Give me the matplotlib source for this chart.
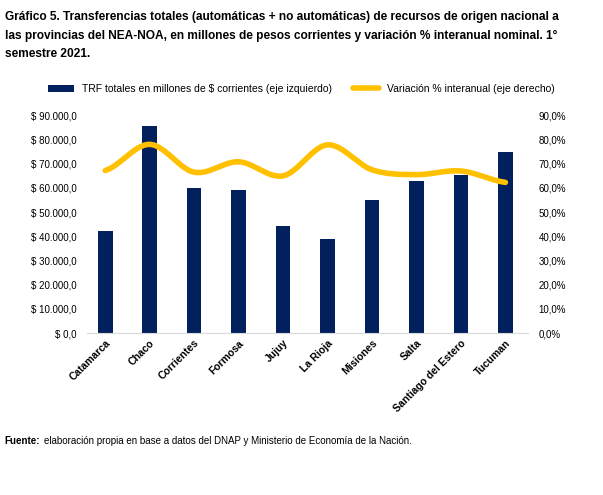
import numpy as np
import matplotlib.pyplot as plt
from matplotlib.ticker import FuncFormatter

provincias = ["Catamarca", "Chaco", "Corrientes", "Formosa", "Jujuy", "La Rioja",
              "Misiones", "Salta", "Santiago del Estero", "Tucuman"]
trf = [42000, 85700, 60000, 59200, 44300, 39000, 55000, 63000, 65300, 74800]
variacion = [67.2, 78.0, 66.5, 70.8, 65.0, 77.8, 67.5, 65.5, 67.0, 62.3]

plt.rcParams['font.family'] = ['Liberation Sans', 'DejaVu Sans']

def fmt_pesos(v, pos):
    s = f"{v:,.1f}".replace(",", "X").replace(".", ",").replace("X", ".")
    return "$ " + s

def fmt_pct(v, pos):
    return f"{v:.1f}%".replace(".", ",")

def smooth(y, n=30):
    # catmull-rom para dibujar la curva suavizada como en Excel
    y = np.asarray(y, float)
    p = np.concatenate([[y[0]], y, [y[-1]]])
    xs, ys = [], []
    for i in range(len(y) - 1):
        t = np.linspace(0, 1, n, endpoint=False)
        p0, p1, p2, p3 = p[i], p[i + 1], p[i + 2], p[i + 3]
        ys.append(0.5 * (2 * p1 + (-p0 + p2) * t + (2 * p0 - 5 * p1 + 4 * p2 - p3) * t**2
                         + (-p0 + 3 * p1 - 3 * p2 + p3) * t**3))
        xs.append(i + t)
    xs.append([len(y) - 1]); ys.append([y[-1]])
    return np.concatenate(xs), np.concatenate(ys)

fig = plt.figure(figsize=(6.03, 4.95), dpi=100)
ax = fig.add_axes([0.145, 0.327, 0.73, 0.44])
x = np.arange(len(provincias))
ax.bar(x, trf, width=0.33, color="#02205e", label="TRF totales en millones de $ corrientes (eje izquierdo)")
ax.set_ylim(0, 90000)
ax.set_yticks(np.arange(0, 90001, 10000))
ax.yaxis.set_major_formatter(FuncFormatter(fmt_pesos))
ax.set_xlim(-0.4, 9.5)
ax.set_xticks(x)
ax.set_xticklabels(provincias, rotation=45, ha="right", rotation_mode="anchor", fontsize=7.5, fontweight="bold")
ax.tick_params(axis="y", labelsize=7, length=0, pad=8)
ax.tick_params(axis="x", length=0)
for s in ["top", "right", "left"]:
    ax.spines[s].set_visible(False)
ax.spines["bottom"].set_color("#d9d9d9")

ax2 = ax.twinx()
sx, sy = smooth(variacion)
ax2.plot(sx, sy, color="#ffc000", lw=4, solid_capstyle="round", label="Variación % interanual (eje derecho)")
ax2.set_ylim(0, 90)
ax2.set_yticks(np.arange(0, 91, 10))
ax2.yaxis.set_major_formatter(FuncFormatter(fmt_pct))
ax2.tick_params(axis="y", labelsize=7, length=0, pad=8)
for s in ax2.spines.values():
    s.set_visible(False)

h1, l1 = ax.get_legend_handles_labels()
h2, l2 = ax2.get_legend_handles_labels()
fig.legend(h1 + h2, l1 + l2, loc="center", bbox_to_anchor=(0.5, 0.82), ncol=2, frameon=False,
           fontsize=7.5, handlelength=2.5, columnspacing=2.0)

fig.text(0.008, 0.978, "Gráfico 5. Transferencias totales (automáticas + no automáticas) de recursos de origen nacional a\n"
         "las provincias del NEA-NOA, en millones de pesos corrientes y variación % interanual nominal. 1°\n"
         "semestre 2021.", fontsize=8.6, fontweight="bold", va="top", linespacing=1.75)
fig.text(0.008, 0.11, "Fuente:", fontsize=7, fontweight="bold", va="center")
fig.text(0.073, 0.11, "elaboración propia en base a datos del DNAP y Ministerio de Economía de la Nación.",
         fontsize=7, va="center")

fig.savefig("out.png", dpi=100)
